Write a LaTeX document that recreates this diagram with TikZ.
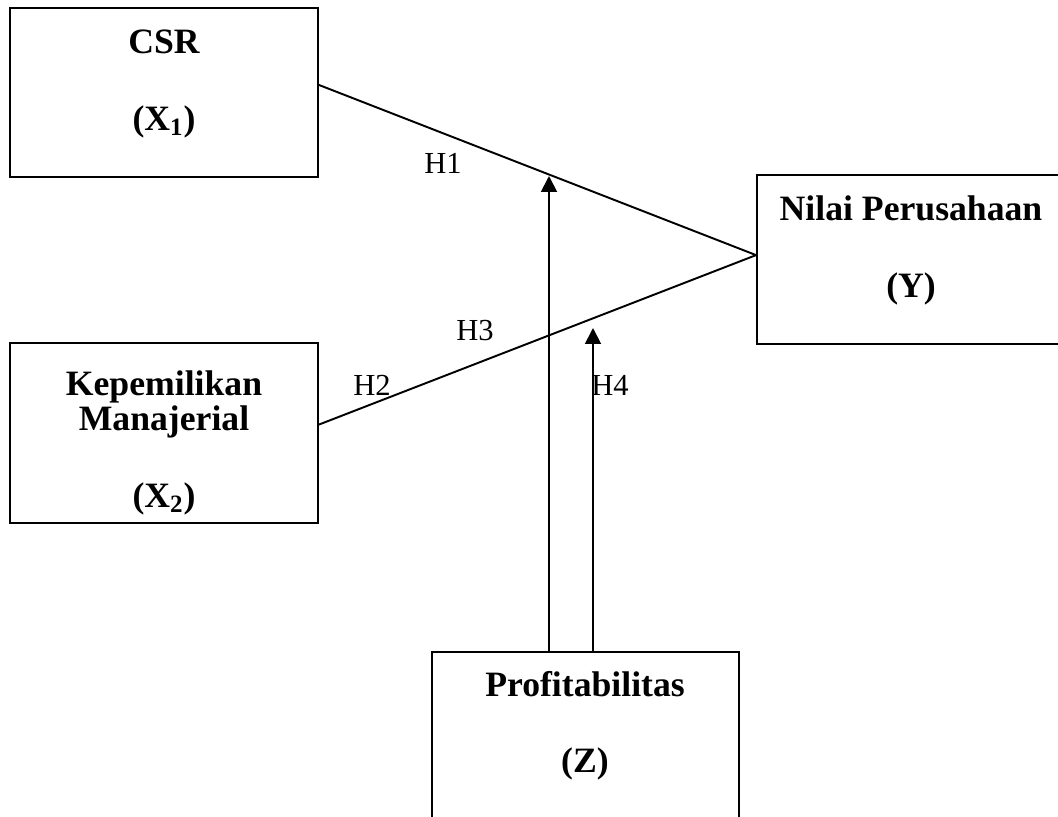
\documentclass[tikz,border=0pt]{standalone}
\usepackage{fontspec}
\setmainfont{Liberation Serif}
\usepackage{tikz}
\usetikzlibrary{arrows.meta,positioning}
\tikzset{
  varbox/.style={draw,line width=1.1pt,minimum width=6.16cm,minimum height=3.38cm,inner sep=0pt},
  vartxt/.style={anchor=base,inner sep=0pt,font=\fontsize{20.3}{24}\selectfont\bfseries},
  hyplbl/.style={anchor=base,inner sep=0pt,font=\fontsize{17.4}{20}\selectfont},
  path/.style={line width=1.1pt},
  modarr/.style={line width=1.1pt,-{Triangle[width=9pt,length=9pt]}}
}

\begin{document}
\begin{tikzpicture}[x=0.02cm,y=-0.02cm]
\useasboundingbox (0,0) rectangle (1058,816);
% ---- VARIABEL ----
\node[varbox] (csr) at (164,92.5) {};
\node[varbox,minimum height=3.6cm] (kep) at (164,433) {};
\node[varbox,minimum width=6.18cm] (nilai) at (911.5,259.5) {};
\node[varbox,minimum width=6.14cm,minimum height=3.36cm] (prof) at (585.5,736) {};
\node[vartxt] (csrname) at (164,53) {CSR};
\node[vartxt] (csrsym) at (164,130) {(X\textsubscript{1})};
\node[vartxt] (kepname) at (164,395) {Kepemilikan};
\node[vartxt] (kepname2) at (164,430) {Manajerial};
\node[vartxt] (kepsym) at (164,507) {(X\textsubscript{2})};
\node[vartxt] (nilainame) at (911,220) {Nilai Perusahaan};
\node[vartxt] (nilaisym) at (911,297) {(Y)};
\node[vartxt] (profname) at (585,696) {Profitabilitas};
\node[vartxt] (profsym) at (585,772) {(Z)};
% ---- HUBUNGAN ----
\draw[path] ([yshift=4.3pt]csr.east) -- ([yshift=2.5pt]nilai.west);
\draw[path] ([yshift=4.8pt]kep.east) -- ([yshift=2.5pt]nilai.west);
\coordinate (h1tip) at (549,176);
\coordinate (h4tip) at (593,328);
\draw[modarr] (prof.north -| h1tip) -- (h1tip);
\draw[modarr] (prof.north -| h4tip) -- (h4tip);
\node[hyplbl] (h1) at (443,173) {H1};
\node[hyplbl] (h2) at (372,395) {H2};
\node[hyplbl] (h3) at (475,340) {H3};
\node[hyplbl] (h4) at (610,395) {H4};
\end{tikzpicture}
\end{document}
